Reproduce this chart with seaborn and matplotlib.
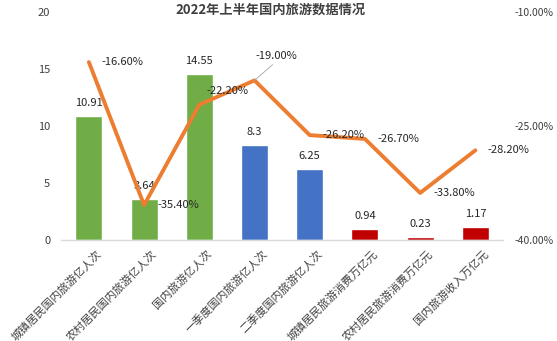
import numpy as np
import pandas as pd
import matplotlib
matplotlib.use("Agg")
import matplotlib.pyplot as plt
from matplotlib.transforms import ScaledTranslation
import seaborn as sns

# Data
categories = [
    "城镇居民国内旅游亿人次",
    "农村居民国内旅游亿人次",
    "国内旅游亿人次",
    "一季度国内旅游亿人次",
    "二季度国内旅游亿人次",
    "城镇居民旅游消费万亿元",
    "农村居民旅游消费万亿元",
    "国内旅游收入万亿元",
]
bar_values = [10.91, 3.64, 14.55, 8.3, 6.25, 0.94, 0.23, 1.17]
bar_labels = ["10.91", "3.64", "14.55", "8.3", "6.25", "0.94", "0.23", "1.17"]
yoy_change = [-16.60, -35.40, -22.20, -19.00, -26.20, -26.70, -33.80, -28.20]
title = "2022年上半年国内旅游数据情况"

# Styling
green, blue, red, orange = "#70AD47", "#4472C4", "#C00000", "#ED7D31"
bar_colors = [green, green, green, blue, blue, red, red, red]
# pixel offsets (dx, dy) of each percentage label from its point
pct_offsets = [(13, 0), (13, 0), (7, 14), (1, 24), (13, 0), (13, 0), (13, 0), (12, 0)]

sns.set_theme(style="white")
plt.rcParams["font.family"] = ["Noto Sans CJK SC", "DejaVu Sans"]
plt.rcParams["axes.unicode_minus"] = False

fig = plt.figure(figsize=(5.57, 3.41), dpi=100)
ax = fig.add_axes([0.110, 0.296, 0.793, 0.669])

df = pd.DataFrame({"cat": categories, "val": bar_values})
sns.barplot(data=df, x="cat", y="val", hue="cat", palette=bar_colors,
            legend=False, width=0.49, ax=ax, saturation=1)
ax.set_xlim(-0.5, len(categories) - 0.5)
ax.set_ylim(0, 20)
ax.set_yticks([0, 5, 10, 15, 20])
ax.set_xlabel("")
ax.set_ylabel("")
for s in ["top", "left", "right"]:
    ax.spines[s].set_visible(False)
ax.spines["bottom"].set_color("#D9D9D9")
ax.spines["bottom"].set_linewidth(1.0)
ax.tick_params(axis="y", length=0, labelsize=8, pad=8, colors="#404040")
ax.tick_params(axis="x", length=0, labelsize=8, pad=2, colors="#404040")
for lbl in ax.get_xticklabels():
    lbl.set_rotation(45)
    lbl.set_ha("right")
    lbl.set_va("center")
    lbl.set_rotation_mode("anchor")
    lbl.set_transform(lbl.get_transform() + ScaledTranslation(11 / 100, -9 / 100, fig.dpi_scale_trans))

for i, (v, t) in enumerate(zip(bar_values, bar_labels)):
    ax.annotate(t, (i, v), xytext=(0, 13), textcoords="offset pixels",
                ha="center", va="center", fontsize=8, color="#262626")

ax2 = ax.twinx()
x_pos = np.arange(len(categories))
sns.lineplot(x=x_pos, y=yoy_change, color=orange, linewidth=2.8, ax=ax2,
             solid_joinstyle="round", solid_capstyle="round")
ax2.set_ylim(-40, -10)
ax2.set_yticks([-10, -25, -40])
ax2.set_yticklabels(["-10.00%", "-25.00%", "-40.00%"])
ax2.tick_params(axis="y", length=0, labelsize=7.5, pad=8, colors="#404040")
for s in ["top", "left", "right", "bottom"]:
    ax2.spines[s].set_visible(False)
ax2.set_ylabel("")

for i, (v, (dx, dy)) in enumerate(zip(yoy_change, pct_offsets)):
    kw = {}
    if i == 3:
        kw["arrowprops"] = dict(arrowstyle="-", color="#A6A6A6", lw=0.6,
                                shrinkA=0, shrinkB=0, relpos=(0.5, 0))
    ax2.annotate(f"{v:.2f}%", (i, v), xytext=(dx, dy), textcoords="offset pixels",
                 ha="left", va="center", fontsize=8, color="#262626", **kw)

fig.text(271 / 557, 1 - 10 / 341, title, ha="center", va="center",
         fontsize=9.5, fontweight="bold", color="#404040")

fig.savefig("out.png", dpi=100, facecolor="white")
